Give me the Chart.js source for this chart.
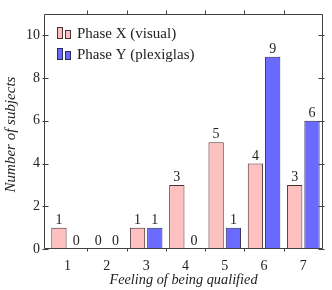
<!DOCTYPE html>
<html><head><meta charset="utf-8">
<script src="https://cdn.jsdelivr.net/npm/chart.js@4/dist/chart.umd.min.js"></script>
<style>html,body{margin:0;padding:0;background:#fff}canvas{display:block}</style>
</head><body>
<canvas id="c" width="332" height="290"></canvas>
<script>
const categories = [1, 2, 3, 4, 5, 6, 7];
const phaseX = [1, 0, 1, 3, 5, 4, 3];
const phaseY = [0, 0, 1, 0, 1, 9, 6];
const seriesNames = ['Phase X (visual)', 'Phase Y (plexiglas)'];
const yTicks = [0, 2, 4, 6, 8, 10];
const xTitle = 'Feeling of being qualified';
const yTitle = 'Number of subjects';

const FONT = "'Liberation Serif', serif";
const FRAME = '#404040';

const framePlugin = {
  id: 'frame',
  afterDatasetsDraw(chart) {
    const ctx = chart.ctx, a = chart.chartArea;
    const xs = chart.scales.x, ys = chart.scales.y;
    ctx.save();
    ctx.strokeStyle = FRAME; ctx.lineWidth = 1;
    ctx.beginPath();
    const L = Math.round(a.left) + 0.5, R = Math.round(a.right) - 0.5;
    const T = Math.round(a.top) + 0.5, B = Math.round(a.bottom) - 0.5;
    ctx.rect(L, T, R - L, B - T);
    yTicks.forEach(v => {
      const y = Math.round(ys.getPixelForValue(v)) + 0.5;
      ctx.moveTo(L - 2, y); ctx.lineTo(L + 4, y);
      ctx.moveTo(R - 4, y); ctx.lineTo(R + 2, y);
    });
    for (let i = 0; i < categories.length - 1; i++) {
      const x = Math.round(xs.getPixelForValue((categories[i] + categories[i + 1]) / 2)) + 0.5;
      ctx.moveTo(x, T - 4); ctx.lineTo(x, T);
      ctx.moveTo(x, B); ctx.lineTo(x, B + 3);
    }
    ctx.stroke();
    ctx.restore();

    // value labels
    ctx.save();
    ctx.font = '14px ' + FONT;
    ctx.fillStyle = '#222';
    ctx.textAlign = 'center';
    ctx.textBaseline = 'alphabetic';
    chart.data.datasets.forEach((ds, di) => {
      const meta = chart.getDatasetMeta(di);
      meta.data.forEach((bar, i) => {
        ctx.fillText(String(ds.data[i].y), bar.x, bar.y - 4);
      });
    });
    ctx.restore();

    // legend
    ctx.save();
    ctx.font = '15px ' + FONT;
    ctx.textBaseline = 'middle';
    chart.data.datasets.forEach((ds, di) => {
      const cy = a.top + 20 + di * 21;
      const x0 = a.left + 13;
      ctx.fillStyle = ds.backgroundColor;
      ctx.strokeStyle = ds.borderColor;
      ctx.lineWidth = 1;
      ctx.fillRect(x0 + 0.5, cy - 6.5, 5, 11);
      ctx.strokeRect(x0 + 0.5, cy - 6.5, 5, 11);
      ctx.fillRect(x0 + 8.5, cy - 3.5, 5, 8);
      ctx.strokeRect(x0 + 8.5, cy - 3.5, 5, 8);
      ctx.fillStyle = '#222';
      ctx.fillText(ds.label, x0 + 20, cy);
    });
    ctx.restore();

    // y axis title
    ctx.save();
    ctx.font = 'italic 15px ' + FONT;
    ctx.fillStyle = '#222';
    ctx.textAlign = 'center';
    ctx.textBaseline = 'alphabetic';
    ctx.translate(15, (a.top + a.bottom) / 2 + 3);
    ctx.rotate(-Math.PI / 2);
    ctx.fillText(yTitle, 0, 0);
    ctx.restore();
  }
};

new Chart(document.getElementById('c'), {
  type: 'bar',
  data: {
    datasets: [
      { label: seriesNames[0], data: categories.map((c, i) => ({ x: c, y: phaseX[i] })),
        backgroundColor: '#ffc0c0', borderColor: '#4a3030', borderWidth: 1 },
      { label: seriesNames[1], data: categories.map((c, i) => ({ x: c, y: phaseY[i] })),
        backgroundColor: '#6a6aff', borderColor: '#2a2a55', borderWidth: 1 }
    ]
  },
  options: {
    responsive: false,
    animation: false,
    devicePixelRatio: 1,
    categoryPercentage: 0.88,
    barPercentage: 0.885,
    layout: { padding: { top: 14, right: 9, left: 0, bottom: 0 } },
    plugins: { legend: { display: false }, tooltip: { enabled: false } },
    scales: {
      x: {
        type: 'linear', min: 0.4, max: 7.5, offset: false,
        afterBuildTicks: s => { s.ticks = categories.map(v => ({ value: v })); },
        ticks: { font: { family: FONT, size: 14 }, color: '#222', padding: 9, maxRotation: 0,
                 callback: v => String(v) },
        grid: { display: false, drawTicks: false, offset: false },
        border: { display: false },
        title: { display: true, text: xTitle, color: '#222', padding: { top: 0, bottom: 1 },
                 font: { family: FONT, size: 14.3, style: 'italic' } },
        afterFit: s => { s.height = 41; }
      },
      y: {
        min: 0, max: 11,
        afterBuildTicks: s => { s.ticks = yTicks.map(v => ({ value: v })); },
        ticks: { font: { family: FONT, size: 14 }, color: '#222', padding: 4 },
        grid: { display: false, drawTicks: false },
        border: { display: false },
        afterFit: s => { s.width = 44; }
      }
    }
  },
  plugins: [framePlugin]
});
</script>
</body></html>
